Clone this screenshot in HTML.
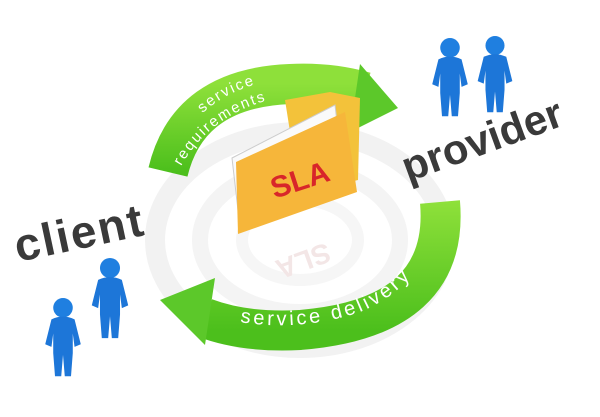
<!DOCTYPE html>
<html><head><style>html,body{margin:0;padding:0;background:#fff}svg{display:block}</style></head>
<body>
<svg width="600" height="417" viewBox="0 0 600 417" xmlns="http://www.w3.org/2000/svg">
<defs>
<linearGradient id="gr" x1="0" y1="0" x2="0" y2="1"><stop offset="0" stop-color="#8ee03a"/><stop offset="1" stop-color="#4cbf1c"/></linearGradient>
<symbol id="man" viewBox="0 0 50 90" overflow="visible">
<circle cx="25" cy="11" r="11" fill="#1f7fe0"/>
<path d="M12,24 Q25,18 38,24 L45,52 L38,55 L36,40 L36,62 L34,88 L27,88 L25,64 L23,88 L16,88 L14,62 L14,40 L12,55 L5,52 Z" fill="#1d76d8"/>
</symbol>
<path id="t1" d="M180,140 Q215,85 290,78 Q330,76 370,88"/>
<path id="t2" d="M180,168 Q215,105 295,95 Q330,93 365,100"/>
<path id="t3" d="M240,322 Q300,332 360,312 Q420,288 445,218"/>
</defs>
<rect width="600" height="417" fill="#fff"/>
<ellipse cx="300" cy="240" rx="145" ry="108" fill="none" stroke="#f2f2f2" stroke-width="20"/>
<ellipse cx="300" cy="240" rx="100" ry="72" fill="none" stroke="#f4f4f4" stroke-width="16"/>
<ellipse cx="300" cy="240" rx="58" ry="40" fill="none" stroke="#f6f6f6" stroke-width="12"/>
<!-- top arrow -->
<path d="M168,172 Q188,88 290,84 Q330,82 365,92" fill="none" stroke="url(#gr)" stroke-width="40"/>
<polygon points="360,64 398,108 350,132" fill="#5cc82a"/>
<text font-family="Liberation Sans, sans-serif" font-size="15" fill="#fff" letter-spacing="2"><textPath href="#t1" startOffset="35">service</textPath></text>
<text font-family="Liberation Sans, sans-serif" font-size="15" fill="#fff" letter-spacing="2"><textPath href="#t2" startOffset="2">requirements</textPath></text>
<!-- bottom arrow -->
<path d="M440,202 Q450,318 300,330 Q245,333 205,318" fill="none" stroke="url(#gr)" stroke-width="40"/>
<polygon points="215,278 160,300 205,345" fill="#5cc82a"/>
<text font-family="Liberation Sans, sans-serif" font-size="20" fill="#fff" letter-spacing="3"><textPath href="#t3" startOffset="0">service delivery</textPath></text>
<!-- folder -->
<polygon points="285,100 330,92 360,98 358,180 300,195" fill="#f3c23a"/>
<polygon points="232,158 335,105 345,190 240,228" fill="#fafafa" stroke="#ccc"/>
<polygon points="236,162 345,112 357,192 238,234" fill="#f6b63a"/>
<text x="300" y="190" font-family="Liberation Sans, sans-serif" font-weight="bold" font-size="30" fill="#d8262a" transform="rotate(-18 300 180)" text-anchor="middle">SLA</text>
<text x="300" y="252" font-family="Liberation Sans, sans-serif" font-weight="bold" font-size="28" fill="#f3e6e6" transform="rotate(160 300 252)" text-anchor="middle">SLA</text>
<!-- labels -->
<text x="18" y="262" font-family="Liberation Sans, sans-serif" font-weight="bold" font-size="46" fill="#3a3a3a" transform="rotate(-12 18 262)" letter-spacing="2">client</text>
<text x="408" y="182" font-family="Liberation Sans, sans-serif" font-weight="bold" font-size="42" fill="#3a3a3a" transform="rotate(-20 408 182)">provider</text>
<!-- people -->
<use href="#man" x="426" y="38" width="48" height="80"/>
<use href="#man" x="472" y="36" width="46" height="78"/>
<use href="#man" x="34" y="298" width="58" height="80"/>
<use href="#man" x="82" y="258" width="56" height="82"/>
</svg>
</body></html>
